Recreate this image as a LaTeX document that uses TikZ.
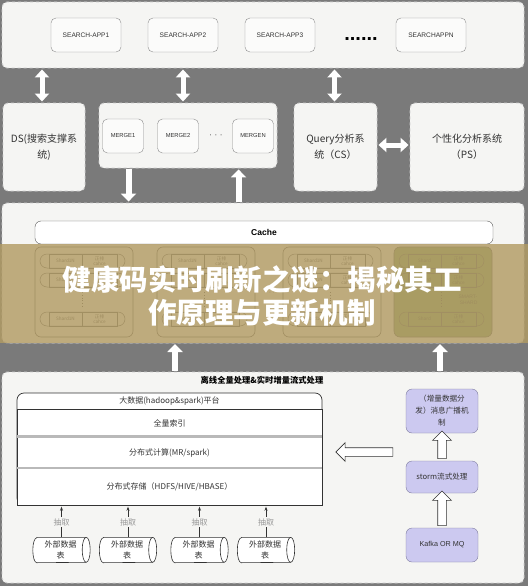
\documentclass[tikz,border=0pt]{standalone}
\usepackage{fontspec}
\setmainfont{Liberation Sans}
\newfontfamily\cjk{Noto Sans CJK SC}
\usetikzlibrary{arrows.meta,shapes.arrows,calc}
\definecolor{bgc}{HTML}{7A7A7A}
\definecolor{panelc}{HTML}{F5F5F3}
\definecolor{boxd}{HTML}{8C8C8C}
\definecolor{purf}{HTML}{CCC9F0}
\definecolor{purd}{HTML}{7E7C9E}
\definecolor{tanc}{RGB}{178,155,100}
\definecolor{grnf}{RGB}{130,165,95}
\definecolor{txt}{HTML}{333333}
\tikzset{
  panel/.style={draw=gray!40, dashed, fill=panelc, rounded corners=5pt, line width=0.9pt, inner sep=0pt},
  appbox/.style={draw=boxd, fill=white!60!panelc, rounded corners=5pt, minimum width=70pt, minimum height=34pt, inner sep=0pt, text=txt, font=\fontsize{6.6}{8}\selectfont},
  mergebox/.style={appbox, minimum width=41pt, minimum height=34pt, font=\fontsize{5.8}{7}\selectfont},
  sidebox/.style={panel, minimum height=88pt, text=txt, align=center, font=\cjk\fontsize{10}{16}\selectfont},
  bigdbl/.style={draw=white, line width=5pt, {Triangle[length=8pt,width=14pt]}-{Triangle[length=8pt,width=14pt]}},
  bigone/.style={draw=white, line width=6pt, -{Triangle[length=8pt,width=15pt]}},
  grp/.style={draw=gray!70!black, rounded corners=6pt, minimum width=98pt, minimum height=90pt, inner sep=0pt, line width=0.6pt},
  capsule/.style={draw=gray!70!black, rounded corners=7pt, minimum width=85pt, minimum height=14pt, inner sep=0pt, line width=0.5pt},
  cell/.style={draw=gray!70!black, minimum height=14pt, inner sep=0pt, align=center, font=\cjk\fontsize{4.6}{5.2}\selectfont, text=gray!60!black, line width=0.5pt},
  row/.style={minimum width=305pt, inner sep=0pt, text=txt, font=\cjk\fontsize{8}{9.6}\selectfont},
  purbox/.style={draw=purd, fill=purf, rounded corners=6pt, minimum width=72pt, inner sep=2pt, align=center, text=txt, font=\cjk\fontsize{7.6}{12}\selectfont},
  hollow/.style={single arrow, draw=gray!40!black, fill=white, inner sep=4pt, single arrow head extend=5pt, single arrow head indent=0pt, line width=0.6pt},
  cylnode/.style={minimum width=57pt, minimum height=25pt, inner sep=0pt, align=center, text=txt, font=\cjk\fontsize{8}{11}\selectfont},
  cylline/.style={draw=gray!40!black, fill=white, line width=0.6pt},
  extract/.style={draw=gray!40!black, line width=0.6pt, -{Stealth[length=4pt,width=3pt]}},
}
\begin{document}
\begin{tikzpicture}[x=1pt,y=-1pt]
\path[use as bounding box, fill=bgc] (0,0) rectangle (528,586);

% ---------- top panel ----------
\node[panel, minimum width=522pt, minimum height=66pt] (top) at (263,35) {};
\node[appbox] (app1) at (86,35) {SEARCH-APP1};
\node[appbox] (app2) at (183,35) {SEARCH-APP2};
\node[appbox] (app3) at (280,35) {SEARCH-APP3};
\node[anchor=base, font=\bfseries\fontsize{20}{20}\selectfont, text=black, inner sep=0pt] (appdots) at (361,41) {......};
\node[appbox] (appn) at (431,35) {SEARCHAPPN};

% ---------- second row ----------
\node[sidebox, minimum width=82pt] (ds) at (44,147) {DS(搜索支撑系\\统)};
\node[panel, minimum width=178pt, minimum height=65pt] (merge) at (188,135.5) {};
\node[mergebox] (m1) at (123,136) {MERGE1};
\node[mergebox] (m2) at (178,136) {MERGE2};
\node[text=txt, font=\fontsize{8}{8}\selectfont] (mdots) at (216,136) {·\,\,·\,\,·};
\node[mergebox] (mn) at (253,136) {MERGEN};
\node[sidebox, minimum width=83pt] (qs) at (335.5,147) {Query分析系\\统（CS）};
\node[sidebox, minimum width=114pt] (ps) at (467,147) {个性化分析系统\\（PS）};

\draw[bigdbl] ($(ds.north)+(-2,-1)$) -- ($(ds.north |- top.south)+(-2,1)$);
\draw[bigdbl] ($(merge.north)+(-5,-1)$) -- ($(merge.north |- top.south)+(-5,1)$);
\draw[bigdbl] ($(qs.north)+(-1,-1)$) -- ($(qs.north |- top.south)+(-1,1)$);
\draw[bigdbl] ($(qs.east)+(1,-2)$) -- ($(ps.west)+(-1,-2)$);

% ---------- cache panel ----------
\node[panel, minimum width=522pt, minimum height=140pt] (cachep) at (263,273) {};
\node[draw=gray!70!black, fill=white, rounded corners=6pt, minimum width=458pt, minimum height=23pt, inner sep=0pt, font=\bfseries\fontsize{8.5}{9}\selectfont] (cache) at (264,232.5) {Cache};

\coordinate (mdown) at ($(merge.south west)+(30,0)$);
\coordinate (mup) at ($(merge.south west)+(140,0)$);
\draw[bigone] ($(mdown)+(0,1)$) -- ($(mdown |- cachep.north)+(0,-1)$);
\draw[bigone] ($(mup |- cachep.north)+(0,-1)$) -- ($(mup)+(0,1)$);

\foreach \gx [count=\i] in {84,206,332,443} {
  \ifnum\i=4
    \node[grp, fill=grnf] (g\i) at (\gx,292) {};
  \else
    \node[grp] (g\i) at (\gx,292) {};
  \fi
  \foreach \ry [count=\j] in {261,280,319} {
    \node[capsule] (g\i c\j) at (\gx-1.5,\ry) {};
    \ifnum\i=4
      \node[cell, minimum width=33pt] (g\i l\j) at (\gx-18.5,\ry) {Shard};
    \else
      \node[cell, minimum width=33pt] (g\i l\j) at (\gx-18.5,\ry) {Shard1N};
    \fi
    \node[cell, minimum width=35pt] (g\i r\j) at (\gx+15.5,\ry) {正排\\cahce};
  }
  \draw[dotted, gray!60!black, line width=0.7pt] ($(g\i l2.south east)+(0,5)$) -- ($(g\i l3.north east)+(0,-5)$);
}
\node[text=gray!60!black, font=\fontsize{5}{6}\selectfont, align=right] (smart) at (468,300) {SMART-\\SHARD};
\node[text=gray!60!black, font=\fontsize{7}{7}\selectfont] (gdots) at (270,293) {·\,·\,·};

% ---------- banner overlay ----------
\fill[tanc, fill opacity=0.82] (0,244) rectangle (528,343);
\node[text=white, font=\cjk\bfseries\fontsize{28.5}{33}\selectfont, inner sep=0pt] (ban1) at (262,280) {健康码实时刷新之谜：揭秘其工};
\node[text=white, font=\cjk\bfseries\fontsize{28.5}{33}\selectfont, inner sep=0pt] (ban2) at (262,313) {作原理与更新机制};

% ---------- bottom panel ----------
\node[panel, minimum width=522pt, minimum height=211pt] (bot) at (263,477.5) {};
\node[font=\cjk\bfseries\fontsize{8.3}{9}\selectfont, text=black, inner sep=0pt] (btitle) at (262,380) {离线全量处理\&实时增量流式处理};

\draw[draw=gray!40!black, fill=white, rounded corners=7pt, line width=0.7pt] (17,393) rectangle (322,505);
\draw[draw=gray!40!black, fill=white, line width=0.7pt] (17,409) rectangle (322,505);
\node[row, minimum height=16pt] (hdr) at (169.5,401) {大数据(hadoop\&spark)平台};
\node[row, minimum height=27pt] (r1) at (169.5,423) {全量索引};
\node[row, minimum height=28pt] (r2) at (169.5,453) {分布式计算(MR/spark)};
\node[row, minimum height=37pt] (r3) at (169.5,486.5) {分布式存储（HDFS/HIVE/HBASE）};
\draw[gray!55, line width=3pt] ($(r1.south west)+(0.6,0)$) -- ($(r1.south east)+(-0.6,0)$);
\draw[gray!55, line width=2.5pt] ($(r2.south west)+(0.6,1)$) -- ($(r2.south east)+(-0.6,1)$);

% purple column
\node[purbox, minimum height=44pt] (bc) at (442,411) {（增量数据分\\发）消息广播机\\制};
\node[purbox, minimum height=32pt] (storm) at (442,477) {storm流式处理};
\node[purbox, minimum height=34pt, font=\fontsize{7.2}{9}\selectfont] (kafka) at (442,545) {Kafka OR MQ};

\path let \p1=(storm.north), \p2=(bc.south), \n1={abs(\y2-\y1)} in
  node[hollow, minimum height=\n1, rotate=90] (ha1) at ($(\p1)!0.5!(\p2)$) {};
\path let \p1=(kafka.north), \p2=(storm.south), \n1={abs(\y2-\y1)} in
  node[hollow, minimum height=\n1, rotate=90] (ha2) at ($(\p1)!0.5!(\p2)$) {};
\coordinate (la1) at (395,452);
\coordinate (la2) at (338,452);
\node[hollow, minimum height=57pt, rotate=180] (ha3) at ($(la1)!0.5!(la2)$) {};

% cylinders
\foreach \cx [count=\k] in {61.5,128,199.5,266} {
  \node[cylnode] (cy\k) at (\cx,550) {};
  \draw[cylline] ($(cy\k.north west)+(4,0)$) -- ($(cy\k.north east)+(-4,0)$)
     arc[start angle=90, end angle=-90, x radius=4pt, y radius=12.5pt]
     -- ($(cy\k.south west)+(4,0)$)
     arc[start angle=270, end angle=90, x radius=4pt, y radius=12.5pt] -- cycle;
  \draw[cylline, fill=none] ($(cy\k.north east)+(-4,0)$) arc[start angle=90, end angle=270, x radius=4pt, y radius=12.5pt];
  \node[cylnode] (cyt\k) at (\cx-1,550) {外部数据\\表};
  \draw[extract] (cy\k.north) -- ($(cy\k.north |- r3.south)+(0,1.5)$)
     node[midway, fill=panelc, inner sep=1pt, text=gray!80, font=\cjk\fontsize{8}{9}\selectfont] {抽取};
}

% white arrows between cache and bottom
\coordinate (ua) at (175,343);
\coordinate (ub) at (440,343);
\draw[bigone] ($(ua |- bot.north)+(0,-1)$) -- ($(ua)+(0,1)$);
\draw[bigone] ($(ub |- bot.north)+(0,-1)$) -- ($(ub)+(0,1)$);
\end{tikzpicture}
\end{document}
